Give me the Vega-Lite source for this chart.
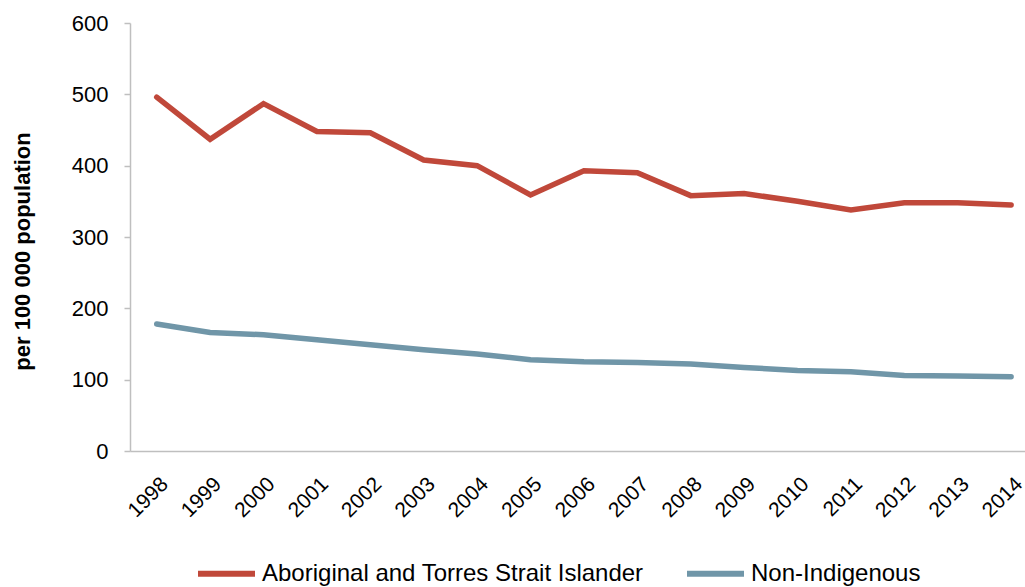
{
  "$schema": "https://vega.github.io/schema/vega-lite/v6.json",
  "width": 895,
  "height": 428,
  "autosize": {"type": "none"},
  "padding": {"left": 130, "top": 23, "right": 0, "bottom": 136},
  "background": "white",
  "config": {"view": {"stroke": null}, "font": "Liberation Sans"},
  "data": {"values": [
    {"year": 1998, "group": "Aboriginal and Torres Strait Islander", "rate": 496},
    {"year": 1999, "group": "Aboriginal and Torres Strait Islander", "rate": 437},
    {"year": 2000, "group": "Aboriginal and Torres Strait Islander", "rate": 487},
    {"year": 2001, "group": "Aboriginal and Torres Strait Islander", "rate": 448},
    {"year": 2002, "group": "Aboriginal and Torres Strait Islander", "rate": 446},
    {"year": 2003, "group": "Aboriginal and Torres Strait Islander", "rate": 408},
    {"year": 2004, "group": "Aboriginal and Torres Strait Islander", "rate": 400},
    {"year": 2005, "group": "Aboriginal and Torres Strait Islander", "rate": 359},
    {"year": 2006, "group": "Aboriginal and Torres Strait Islander", "rate": 393},
    {"year": 2007, "group": "Aboriginal and Torres Strait Islander", "rate": 390},
    {"year": 2008, "group": "Aboriginal and Torres Strait Islander", "rate": 358},
    {"year": 2009, "group": "Aboriginal and Torres Strait Islander", "rate": 361},
    {"year": 2010, "group": "Aboriginal and Torres Strait Islander", "rate": 350},
    {"year": 2011, "group": "Aboriginal and Torres Strait Islander", "rate": 338},
    {"year": 2012, "group": "Aboriginal and Torres Strait Islander", "rate": 348},
    {"year": 2013, "group": "Aboriginal and Torres Strait Islander", "rate": 348},
    {"year": 2014, "group": "Aboriginal and Torres Strait Islander", "rate": 345},
    {"year": 1998, "group": "Non-Indigenous", "rate": 178},
    {"year": 1999, "group": "Non-Indigenous", "rate": 166},
    {"year": 2000, "group": "Non-Indigenous", "rate": 163},
    {"year": 2001, "group": "Non-Indigenous", "rate": 156},
    {"year": 2002, "group": "Non-Indigenous", "rate": 149},
    {"year": 2003, "group": "Non-Indigenous", "rate": 142},
    {"year": 2004, "group": "Non-Indigenous", "rate": 136},
    {"year": 2005, "group": "Non-Indigenous", "rate": 128},
    {"year": 2006, "group": "Non-Indigenous", "rate": 125},
    {"year": 2007, "group": "Non-Indigenous", "rate": 124},
    {"year": 2008, "group": "Non-Indigenous", "rate": 122},
    {"year": 2009, "group": "Non-Indigenous", "rate": 117},
    {"year": 2010, "group": "Non-Indigenous", "rate": 113},
    {"year": 2011, "group": "Non-Indigenous", "rate": 111},
    {"year": 2012, "group": "Non-Indigenous", "rate": 106},
    {"year": 2013, "group": "Non-Indigenous", "rate": 105},
    {"year": 2014, "group": "Non-Indigenous", "rate": 104}
  ]},
  "mark": {"type": "line", "strokeWidth": 5.5, "strokeCap": "round", "strokeJoin": "miter", "clip": true},
  "encoding": {
    "x": {
      "field": "year", "type": "quantitative",
      "scale": {"domain": [1997.5, 2014.26], "nice": false, "zero": false},
      "axis": {
        "title": null,
        "values": [1998,1999,2000,2001,2002,2003,2004,2005,2006,2007,2008,2009,2010,2011,2012,2013,2014],
        "format": "d",
        "labelAngle": -45,
        "labelFontSize": 21,
        "labelColor": "#000000",
        "labelPadding": 22,
        "labelDx": -5,
        "ticks": false,
        "grid": false,
        "domainColor": "#bfbfbf",
        "domainWidth": 1.5,
        "labelFlush": false,
        "labelOverlap": false
      }
    },
    "y": {
      "field": "rate", "type": "quantitative",
      "scale": {"domain": [0, 600], "nice": false},
      "axis": {
        "title": "per 100 000 population",
        "titleFontSize": 22,
        "titleFontWeight": "bold",
        "titleColor": "#000000",
        "titleX": -108,
        "titleY": 228,
        "titleAlign": "center",
        "titleBaseline": "middle",
        "values": [0,100,200,300,400,500,600],
        "labelFontSize": 22,
        "labelColor": "#000000",
        "labelPadding": 16,
        "tickSize": 6,
        "tickColor": "#bfbfbf",
        "tickWidth": 1.5,
        "domainColor": "#bfbfbf",
        "domainWidth": 1.5,
        "grid": false
      }
    },
    "color": {
      "field": "group", "type": "nominal",
      "scale": {"domain": ["Aboriginal and Torres Strait Islander", "Non-Indigenous"], "range": ["#C0483A", "#7096A8"]},
      "legend": {
        "title": null,
        "orient": "none",
        "direction": "horizontal",
        "legendX": 65,
        "legendY": 519,
        "symbolType": "stroke",
        "symbolSize": 3249,
        "symbolStrokeWidth": 6,
        "labelFontSize": 24,
        "labelColor": "#000000",
        "labelOffset": 4,
        "columnPadding": 31,
        "labelLimit": 1000
      }
    }
  }
}
